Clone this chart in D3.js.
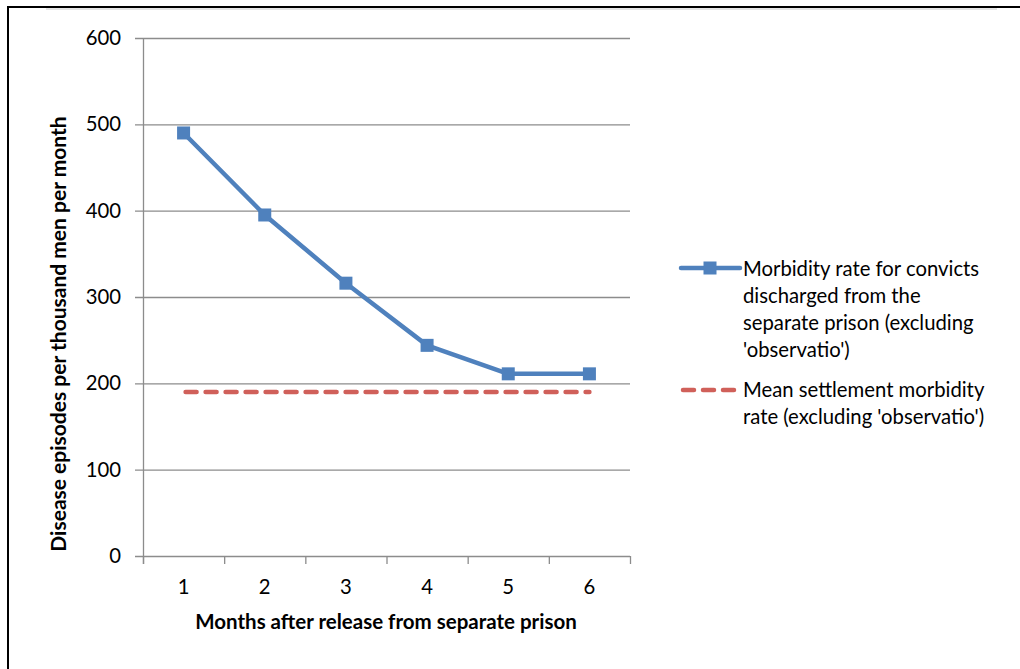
<!DOCTYPE html>
<html><head><meta charset="utf-8">
<script src="https://cdn.jsdelivr.net/npm/d3@7"></script>
<style>body{margin:0;background:#fff}svg{display:block}text{font-family:Lato,"Open Sans",sans-serif;fill:#000}</style>
</head><body><svg id="c" width="1020" height="669"></svg>
<script>
const months = ["1","2","3","4","5","6"];
const morbidity = [490, 395, 316, 244, 211, 211];
const settlementMean = [190, 190, 190, 190, 190, 190];
const yTicks = [0,100,200,300,400,500,600];
const legendLabels = [
  ["Morbidity rate for convicts","discharged from the","separate prison (excluding","'observatio')"],
  ["Mean settlement morbidity","rate (excluding 'observatio')"]
];
const FS = 20.3;
const svg = d3.select("#c");
svg.append("line").attr("x1",7).attr("x2",1020).attr("y1",7).attr("y2",7).attr("stroke","#000").attr("stroke-width",2);
svg.append("line").attr("x1",8).attr("x2",8).attr("y1",6).attr("y2",669).attr("stroke","#000").attr("stroke-width",2);
svg.append("line").attr("x1",46).attr("x2",997).attr("y1",9).attr("y2",9).attr("stroke","#ccc").attr("stroke-width",1);

const x = d3.scaleBand().domain(months).range([143,630]);
const y = d3.scaleLinear().domain([0,600]).range([556,38]);
const grid = "#8c8c8c";
svg.append("g").selectAll("line").data(yTicks).join("line")
  .attr("x1",135).attr("x2",630).attr("y1",d=>y(d)+0.5).attr("y2",d=>y(d)+0.5)
  .attr("stroke",grid).attr("stroke-width",1.3);
svg.append("line").attr("x1",143.5).attr("x2",143.5).attr("y1",y(600)).attr("y2",564).attr("stroke",grid).attr("stroke-width",1.3);
const xt = months.map(m=>x(m)).concat([x.range()[1]]);
svg.append("g").selectAll("line").data(xt).join("line")
  .attr("x1",d=>d+0.5).attr("x2",d=>d+0.5).attr("y1",556).attr("y2",564).attr("stroke",grid).attr("stroke-width",1.3);
svg.append("g").selectAll("text").data(yTicks).join("text")
  .attr("x",121).attr("y",d=>y(d)).attr("dy","0.35em").attr("text-anchor","end").attr("font-size",FS).text(d=>d);
svg.append("g").selectAll("text").data(months).join("text")
  .attr("x",d=>x(d)+x.bandwidth()/2).attr("y",587).attr("dy","0.35em").attr("text-anchor","middle").attr("font-size",FS).text(d=>d);
svg.append("text").attr("x",386).attr("y",622).attr("dy","0.35em").attr("text-anchor","middle").attr("font-size",20.5).attr("font-weight","bold").text("Months after release from separate prison");
svg.append("text").attr("transform","translate(59,334) rotate(-90)").attr("dy","0.35em").attr("text-anchor","middle").attr("font-size",21).attr("font-weight","bold").text("Disease episodes per thousand men per month");

const cx = d=>x(d)+x.bandwidth()/2;
const blue = "#4f81bd", red = "#d0605a";
svg.append("path").datum(settlementMean).attr("fill","none").attr("stroke",red).attr("stroke-width",4.5)
  .attr("stroke-dasharray","11,9").attr("stroke-dashoffset",-2).attr("stroke-linecap","round")
  .attr("d",d3.line().x((d,i)=>cx(months[i])).y(d=>y(d)));
svg.append("path").datum(morbidity).attr("fill","none").attr("stroke",blue).attr("stroke-width",4.5)
  .attr("stroke-linejoin","round")
  .attr("d",d3.line().x((d,i)=>cx(months[i])).y(d=>y(d)));
svg.append("g").selectAll("rect").data(morbidity).join("rect")
  .attr("x",(d,i)=>cx(months[i])-6.5).attr("y",d=>y(d)-6.5).attr("width",13).attr("height",13).attr("fill",blue);

const lg = svg.append("g");
lg.append("line").attr("x1",681).attr("x2",740).attr("y1",268).attr("y2",268).attr("stroke",blue).attr("stroke-width",4.5).attr("stroke-linecap","round");
lg.append("rect").attr("x",703.5).attr("y",261.5).attr("width",13).attr("height",13).attr("fill",blue);
lg.append("line").attr("x1",683).attr("x2",738).attr("y1",390).attr("y2",390).attr("stroke",red).attr("stroke-width",4.5).attr("stroke-dasharray","11,9").attr("stroke-linecap","round");
legendLabels[0].forEach((t,i)=>lg.append("text").attr("x",743).attr("y",269+i*27).attr("dy","0.35em").attr("font-size",FS).text(t));
legendLabels[1].forEach((t,i)=>lg.append("text").attr("x",743).attr("y",390+i*27).attr("dy","0.35em").attr("font-size",FS).text(t));
</script></body></html>
